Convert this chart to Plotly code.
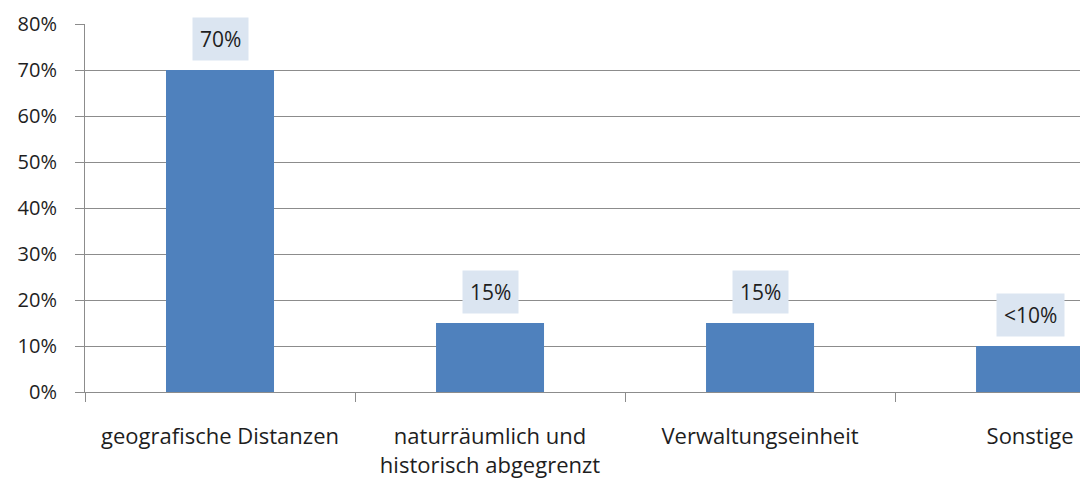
import plotly.graph_objects as go

categories = ["geografische Distanzen", "naturräumlich und<br>historisch abgegrenzt",
              "Verwaltungseinheit", "Sonstige"]
values = [70, 15, 15, 10]
value_labels = ["70%", "15%", "15%", "<10%"]
y_ticks = [0, 10, 20, 30, 40, 50, 60, 70, 80]
y_tick_labels = ["0%", "10%", "20%", "30%", "40%", "50%", "60%", "70%", "80%"]

BAR = "#4f81bd"
GRID = "#8c8c8c"
TXT = "#1e1e1e"
FONT = "Open Sans"

fig = go.Figure(go.Bar(x=categories, y=values, marker=dict(color=BAR, line=dict(width=0)),
                       hoverinfo="skip"))

for c, v, t in zip(categories, values, value_labels):
    fig.add_annotation(x=c, y=v, xref="x", yref="y", text=t.replace("<", "&lt;"),
                       showarrow=False, yanchor="bottom", yshift=9,
                       bgcolor="#dbe5f1", borderpad=7,
                       font=dict(family=FONT, size=21, color=TXT))

fig.update_layout(
    width=1080, height=482, autosize=False,
    margin=dict(l=85, r=0, t=24, b=90),
    paper_bgcolor="white", plot_bgcolor="white",
    bargap=0.6, showlegend=False,
    font=dict(family=FONT, color=TXT),
)
fig.update_xaxes(type="category", range=[-0.5, 3.185], tickson="boundaries",
                 ticks="outside", ticklen=9, tickcolor=GRID, tickwidth=1,
                 showline=True, linecolor=GRID, linewidth=1, showgrid=False,
                 tickfont=dict(family=FONT, size=22, color=TXT), ticklabelstandoff=25)
fig.update_yaxes(range=[0, 80], tickvals=y_ticks, ticktext=y_tick_labels,
                 ticks="outside", ticklen=9, tickcolor=GRID, tickwidth=1,
                 showline=True, linecolor=GRID, linewidth=1,
                 showgrid=True, gridcolor=GRID, gridwidth=1, zeroline=False,
                 tickfont=dict(family=FONT, size=20, color=TXT), ticklabelstandoff=14)

fig.write_html("out.html", config={"displayModeBar": False, "staticPlot": True},
               post_script="document.body.style.margin='0';document.body.style.overflow='hidden';")
